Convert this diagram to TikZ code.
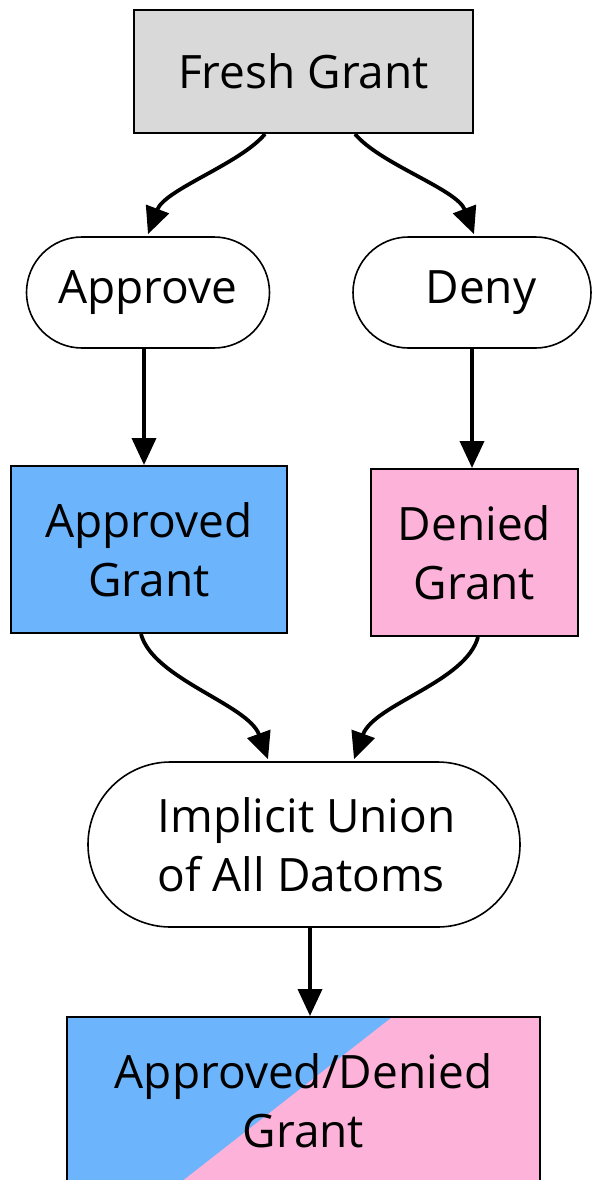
\documentclass[tikz,border=0pt]{standalone}
\usepackage{fontspec}
\setmainfont{Open Sans}
\usetikzlibrary{shapes.misc,arrows.meta,calc}
\definecolor{freshgray}{RGB}{217,217,217}
\definecolor{okblue}{RGB}{108,180,252}
\definecolor{nopink}{RGB}{252,178,217}
\begin{document}
\begin{tikzpicture}[x=1pt,y=-1pt,
  every node/.style={font=\fontsize{46}{59}\selectfont, inner sep=0pt, align=center},
  box/.style={rectangle, draw=black, line width=2pt},
  pill/.style={rounded rectangle, draw=black, line width=1.6pt, fill=white},
  flow/.style={line width=3.8pt, -{Triangle[length=27pt,width=24pt]}}]
\useasboundingbox (0,0) rectangle (592,1180);

% states and actions
\node[box, fill=freshgray, minimum width=339pt, minimum height=123pt] (fresh) at (303.5,71.5) {Fresh Grant};
\node[pill, minimum width=243pt, minimum height=111pt] (approve) at (148,292.5) {Approve};
\node[pill, minimum width=238pt, minimum height=111pt] (deny) at (472,292.5) {\hspace*{18pt}Deny};
\node[box, fill=okblue, minimum width=276pt, minimum height=167pt] (approvedg) at (149,549.5) {Approved\\Grant};
\node[box, fill=nopink, minimum width=207pt, minimum height=167pt] (deniedg) at (474.5,552.5) {Denied\\Grant};
\node[pill, minimum width=432pt, minimum height=165pt, align=left] (union) at (304,844.5)
  {\hspace*{5pt}Implicit Union\\\hspace*{5pt}of All Datoms};
\node[box, anchor=north, minimum width=473pt, minimum height=168pt,
  path picture={
    \fill[nopink] (path picture bounding box.south west) rectangle (path picture bounding box.north east);
    \fill[okblue] (path picture bounding box.north west)
      -- ($(path picture bounding box.north west)+(325,0)$)
      -- ($(path picture bounding box.south west)+(110,0)$)
      -- (path picture bounding box.south west) -- cycle;
  }] (final) at (303.5,1016) {Approved/Denied\\Grant};

% transitions
\draw[flow] ($(fresh.south)+(-38.5,0)$) .. controls +(-25,30) and +(17,-45) .. ($(approve.north)+(0,-2)$);
\draw[flow] ($(fresh.south)+(51.5,0)$) .. controls +(25,30) and +(-17,-45) .. ($(deny.north)+(2,-2)$);
\draw[flow] ($(approve.south)+(-4,0)$) -- ($(approvedg.north)+(-5,0)$);
\draw[flow] ($(deny.south)+(0,0)$) -- ($(deniedg.north)+(-2.5,0)$);
\draw[flow] ($(approvedg.south)+(-8,0)$) .. controls +(12,45) and +(-20,-55) .. ($(union.north)+(-36,-2)$);
\draw[flow] ($(deniedg.south)+(3.5,0)$) .. controls +(-12,45) and +(20,-55) .. ($(union.north)+(50,-2)$);
\draw[flow] ($(union.south)+(6,0)$) -- ($(final.north)+(6.5,0)$);
\end{tikzpicture}
\end{document}
